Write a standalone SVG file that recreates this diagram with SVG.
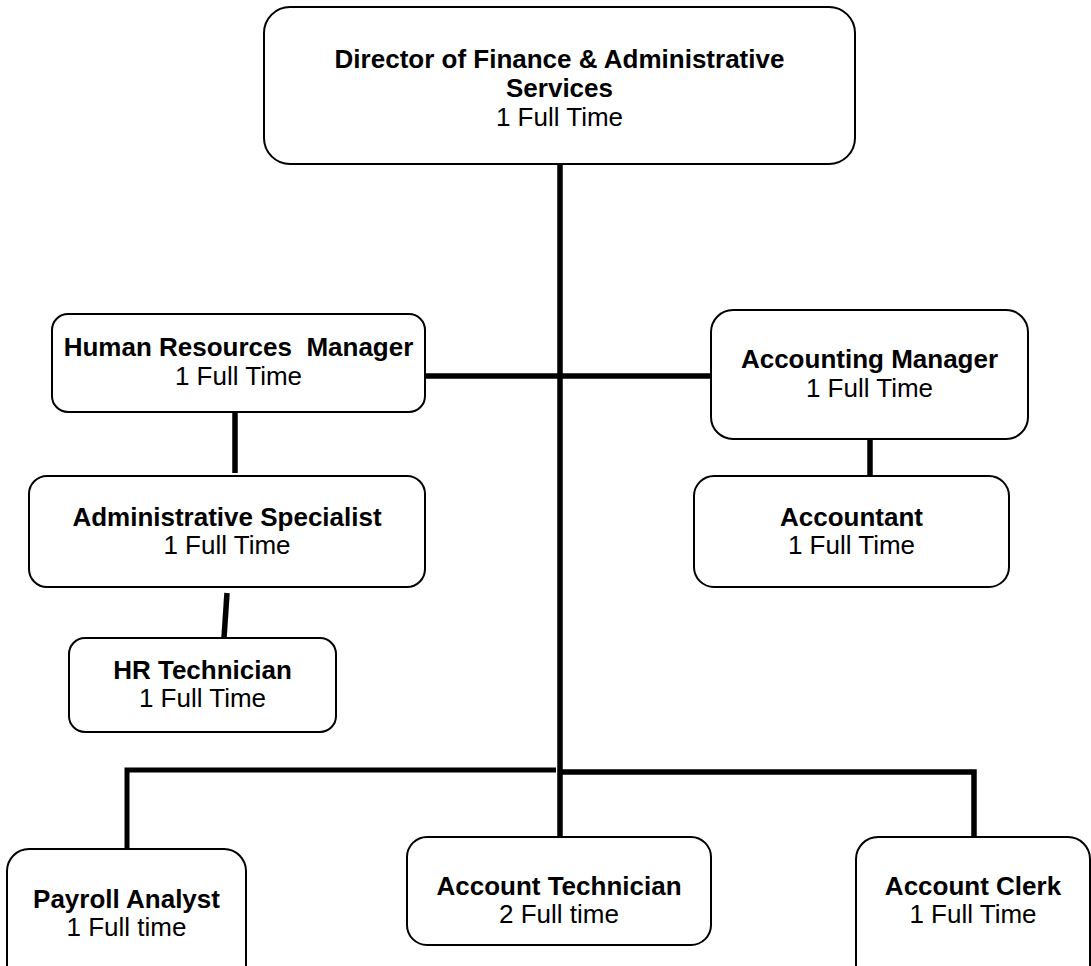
<svg xmlns="http://www.w3.org/2000/svg" width="1091" height="966" viewBox="0 0 1091 966">
<style>
.box{fill:#fff;stroke:#000;stroke-width:2}
.t{font-family:"Liberation Sans",Arial,sans-serif;font-size:26px;fill:#000;text-anchor:middle}
.b{font-weight:bold}
.c{stroke:#000;stroke-width:5.5;fill:none}
</style>
<rect width="1091" height="966" fill="#fff"/>
<g id="connectors">
<line class="c" x1="560" y1="164" x2="560" y2="837"/>
<line class="c" x1="425" y1="376" x2="711" y2="376"/>
<line class="c" x1="235" y1="412" x2="235" y2="473"/>
<line class="c" x1="227" y1="593" x2="224" y2="638"/>
<line class="c" x1="870" y1="439" x2="870" y2="476"/>
<polyline class="c" points="127,849 127,770 556,770" style="stroke-width:5"/>
<polyline class="c" points="560,772 974,772 974,837"/>
</g>
<g id="director">
<rect class="box" x="264" y="7" width="591" height="157" rx="26"/>
<text class="t b" x="559.5" y="68">Director of Finance &amp; Administrative</text>
<text class="t b" x="559.5" y="97">Services</text>
<text class="t" x="559.5" y="126">1 Full Time</text>
</g>
<g id="hr-manager">
<rect class="box" x="52" y="314" width="373" height="98" rx="16"/>
<text class="t b" x="238.5" y="356" xml:space="preserve">Human Resources  Manager</text>
<text class="t" x="238.5" y="385">1 Full Time</text>
</g>
<g id="admin-specialist">
<rect class="box" x="29" y="476" width="396" height="111" rx="18"/>
<text class="t b" x="227" y="526">Administrative Specialist</text>
<text class="t" x="227" y="554">1 Full Time</text>
</g>
<g id="hr-technician">
<rect class="box" x="69" y="638" width="267" height="94" rx="16"/>
<text class="t b" x="202.5" y="679">HR Technician</text>
<text class="t" x="202.5" y="707">1 Full Time</text>
</g>
<g id="accounting-manager">
<rect class="box" x="711" y="310" width="317" height="129" rx="22"/>
<text class="t b" x="869.5" y="368">Accounting Manager</text>
<text class="t" x="869.5" y="397">1 Full Time</text>
</g>
<g id="accountant">
<rect class="box" x="694" y="476" width="315" height="111" rx="20"/>
<text class="t b" x="851.5" y="526">Accountant</text>
<text class="t" x="851.5" y="554">1 Full Time</text>
</g>
<g id="payroll-analyst">
<rect class="box" x="7" y="849" width="239" height="140" rx="22"/>
<text class="t b" x="126.5" y="908">Payroll Analyst</text>
<text class="t" x="126.5" y="936">1 Full time</text>
</g>
<g id="account-technician">
<rect class="box" x="407" y="837" width="304" height="108" rx="20"/>
<text class="t b" x="559" y="895">Account Technician</text>
<text class="t" x="559" y="923">2 Full time</text>
</g>
<g id="account-clerk">
<rect class="box" x="856" y="837" width="234" height="152" rx="22"/>
<text class="t b" x="973" y="895">Account Clerk</text>
<text class="t" x="973" y="923">1 Full Time</text>
</g>
</svg>
